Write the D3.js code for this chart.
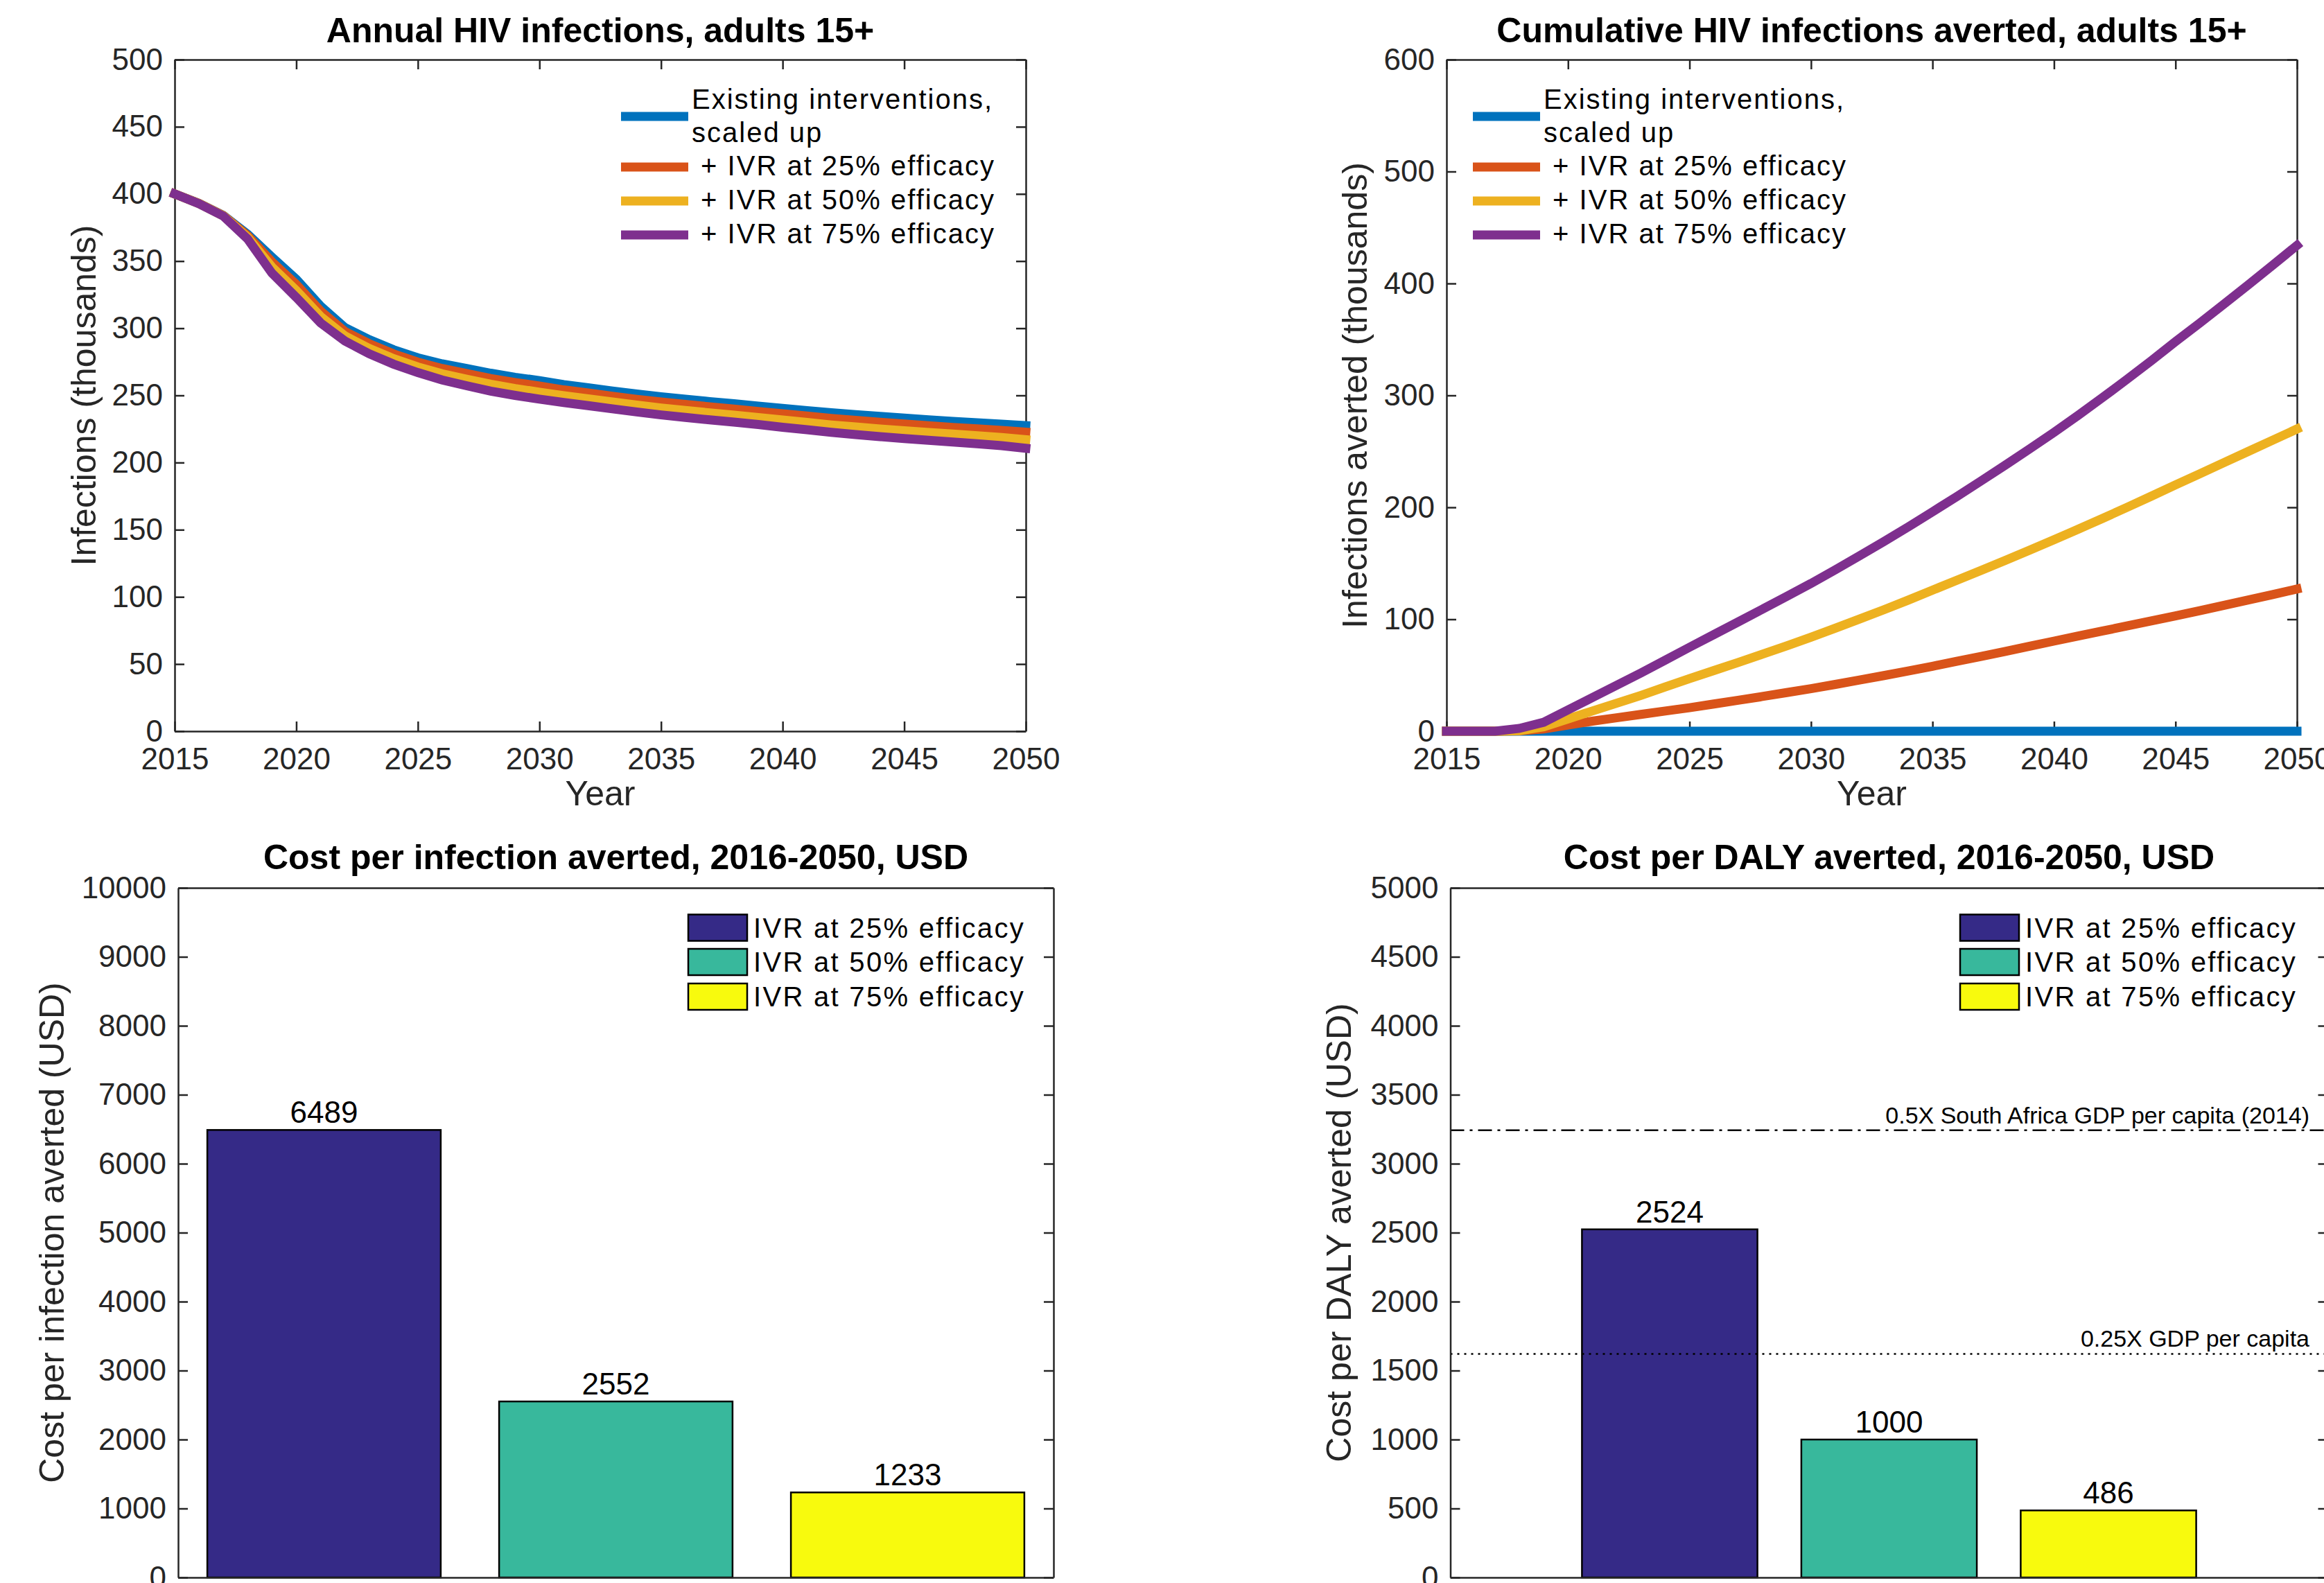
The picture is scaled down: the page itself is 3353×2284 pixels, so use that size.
<!DOCTYPE html>
<html>
<head>
<meta charset="utf-8">
<script src="https://cdn.jsdelivr.net/npm/d3@7"></script>
<style>
body { margin: 0; background: #fff; }
text { font-family: "Liberation Sans", Arial, Helvetica, sans-serif; }
</style>
</head>
<body>
<div id="chart"></div>
<script>
// values
var years = [2015, 2016, 2017, 2018, 2019, 2020, 2021, 2022, 2023, 2024, 2025, 2026, 2027, 2028, 2029, 2030, 2031, 2032,
	2033, 2034, 2035, 2036, 2037, 2038, 2039, 2040, 2041, 2042, 2043, 2044, 2045, 2046, 2047, 2048, 2049, 2050]

var seriesNames = ['Existing interventions,|scaled up', ' + IVR at 25% efficacy', ' + IVR at 50% efficacy', ' + IVR at 75% efficacy']

// annual infections, thousands
var annualExisting = [400, 393, 384, 370, 353, 336.5, 316.5, 300.5, 291.5, 284, 278, 273.5, 270, 266.5, 263.5, 261, 258, 255.7,
	253.3, 251, 249, 247.2, 245.4, 243.8, 242, 240.4, 238.7, 237.1, 235.7, 234.4, 233.1, 231.8, 230.7, 229.6, 228.6, 227.5]
var annualIVR25 = [400, 393, 383.9, 369, 349.5, 332.6, 312.9, 297.6, 288.5, 280.9, 274.8, 270, 266.3, 262.6, 259.6, 257, 254.1, 251.8,
	249.4, 247.1, 245.1, 243.3, 241.5, 239.8, 238, 236.3, 234.6, 232.9, 231.4, 230, 228.7, 227.4, 226.2, 225.1, 224, 222.6]
var annualIVR50 = [400, 392.8, 383.7, 367.8, 345.6, 328.1, 308.8, 294.3, 285, 277.4, 271.2, 266.1, 262.1, 258.3, 255.1, 252.4, 249.8, 247.5,
	245.1, 242.8, 240.6, 238.8, 237, 235.3, 233.5, 231.7, 229.9, 228, 226.5, 225, 223.7, 222.4, 221.2, 219.9, 218.7, 217]
var annualIVR75 = [400, 392.7, 383.5, 366.5, 341, 323, 304, 290.5, 281, 273.3, 267, 261.5, 257.2, 253.2, 250, 247.2, 244.7, 242.4,
	240, 237.7, 235.5, 233.6, 231.8, 230.1, 228.3, 226.3, 224.5, 222.5, 220.8, 219.3, 217.9, 216.6, 215.3, 214, 212.6, 210.6]

// cumulative infections averted, thousands
var avertedExisting = [0, 0, 0, 0, 0, 0, 0, 0, 0, 0, 0, 0, 0, 0, 0, 0, 0, 0,
	0, 0, 0, 0, 0, 0, 0, 0, 0, 0, 0, 0, 0, 0, 0, 0, 0, 0]
var avertedIVR25 = [0, 0, 0, 0.3, 2, 5.5, 9, 12, 15, 18, 21, 24.3, 27.6, 31, 34.5, 38, 41.8, 45.7,
	49.7, 53.8, 58, 62.4, 66.8, 71.3, 75.9, 80.5, 85, 89.5, 94, 98.5, 103, 107.7, 112.5, 117.2, 122.1, 127]
var avertedIVR50 = [0, 0, 0, 0.5, 4, 11, 18, 25, 32, 39.5, 47, 54.2, 61.4, 68.8, 76.3, 84, 92, 100.2,
	108.5, 117.1, 126, 134.8, 143.7, 152.7, 161.8, 171, 180.5, 190.1, 199.9, 209.9, 220, 230, 240, 250, 260, 270]
var avertedIVR75 = [0, 0, 0, 2.5, 8, 19, 30, 41, 52, 63.5, 75, 86.3, 97.6, 109, 120.5, 132, 144.2, 156.7,
	169.4, 182.5, 196, 209.6, 223.6, 237.8, 252.3, 267, 282.3, 298.1, 314.3, 330.9, 348, 364.6, 381.6, 398.8, 416.3, 434]

// cost effectiveness bars
var barNames = ['IVR at 25% efficacy', 'IVR at 50% efficacy', 'IVR at 75% efficacy']
var costPerInfection = [6489, 2552, 1233]
var costPerDaly = [2524, 1000, 486]
var thresholdValues = [3242, 1621]
var thresholdNames = ['0.5X South Africa GDP per capita (2014)', '0.25X GDP per capita']

var yearTicks = [2015, 2020, 2025, 2030, 2035, 2040, 2045, 2050]
var annualTicks = [0, 50, 100, 150, 200, 250, 300, 350, 400, 450, 500]
var avertedTicks = [0, 100, 200, 300, 400, 500, 600]
var infectionCostTicks = [0, 1000, 2000, 3000, 4000, 5000, 6000, 7000, 8000, 9000, 10000]
var dalyCostTicks = [0, 500, 1000, 1500, 2000, 2500, 3000, 3500, 4000, 4500, 5000]

var lineColors = ['#0072bd', '#d95319', '#edb120', '#7e2f8e']
var barColors = ['#352a87', '#38b89c', '#f8fa0d']
var AXIS = '#262626'

var svg = d3.select('#chart').append('svg')
	.attr('width', 3353).attr('height', 2284).style('display', 'block')
svg.append('rect').attr('width', 3353).attr('height', 2284).attr('fill', '#fff')

function styleAxis(sel) {
	sel.select('.domain').attr('stroke', AXIS).attr('stroke-width', 2.5)
	sel.selectAll('.tick line').attr('stroke', AXIS).attr('stroke-width', 2.5)
	sel.selectAll('.tick text').attr('fill', AXIS).style('font-size', '44px')
}

// box with inward ticks on all four sides, like matlab
function drawFrame(x, y, xTicks, yTicks) {
	var g = svg.append('g')
	var r = x.range(), d = y.range()
	g.append('g').attr('transform', 'translate(0,' + d[0] + ')')
		.call(d3.axisBottom(x).tickValues(xTicks).tickSizeInner(-14).tickSizeOuter(0).tickPadding(24).tickFormat(d3.format('d')))
		.call(styleAxis)
	g.append('g').attr('transform', 'translate(0,' + d[1] + ')')
		.call(d3.axisTop(x).tickValues(xTicks).tickSizeInner(-14).tickSizeOuter(0).tickFormat(''))
		.call(styleAxis)
	g.append('g').attr('transform', 'translate(' + r[0] + ',0)')
		.call(d3.axisLeft(y).tickValues(yTicks).tickSizeInner(-14).tickSizeOuter(0).tickPadding(17).tickFormat(d3.format('d')))
		.call(styleAxis)
	g.append('g').attr('transform', 'translate(' + r[1] + ',0)')
		.call(d3.axisRight(y).tickValues(yTicks).tickSizeInner(-14).tickSizeOuter(0).tickFormat(''))
		.call(styleAxis)
	return g
}

function drawTitle(x, baseline, text) {
	var r = x.range()
	svg.append('text').attr('x', (r[0] + r[1]) / 2).attr('y', baseline)
		.attr('text-anchor', 'middle').style('font-size', '50px').style('font-weight', 'bold')
		.attr('fill', '#000').text(text)
}

function drawYLabel(xPos, y, text) {
	var d = y.range(), cy = (d[0] + d[1]) / 2
	svg.append('text').attr('transform', 'translate(' + xPos + ',' + cy + ') rotate(-90)')
		.attr('text-anchor', 'middle').style('font-size', '50px').attr('fill', AXIS).text(text)
}

function drawXLabel(x, baseline, text) {
	var r = x.range()
	svg.append('text').attr('x', (r[0] + r[1]) / 2).attr('y', baseline)
		.attr('text-anchor', 'middle').style('font-size', '50px').attr('fill', AXIS).text(text)
}

function drawLines(x, y, series) {
	var line = d3.line().x(function(d, i) { return x(years[i]) }).y(function(d) { return y(d) })
	svg.append('g').selectAll('path').data(series).enter().append('path')
		.attr('d', line)
		.attr('fill', 'none')
		.attr('stroke', function(d, i) { return lineColors[i] })
		.attr('stroke-width', 13)
		.attr('stroke-linecap', 'square')
		.attr('stroke-linejoin', 'miter')
}

function drawLineLegend(lineX, rowY, textBase) {
	var g = svg.append('g')
	seriesNames.forEach(function(name, i) {
		g.append('line').attr('x1', lineX).attr('x2', lineX + 97)
			.attr('y1', rowY[i]).attr('y2', rowY[i])
			.attr('stroke', lineColors[i]).attr('stroke-width', 13)
		var parts = name.split('|')
		parts.forEach(function(p, j) {
			g.append('text').attr('x', lineX + 102).attr('y', textBase[i] + j * 47.5)
				.style('font-size', '40px').style('letter-spacing', '2px').style('white-space', 'pre')
				.attr('fill', '#000').text(p)
		})
	})
}

function drawBars(x, y, values) {
	var w = 0.8 * (x(1) - x(0))
	var g = svg.append('g')
	g.selectAll('rect').data(values).enter().append('rect')
		.attr('x', function(d, i) { return x(i + 1) - w / 2 })
		.attr('y', function(d) { return y(d) })
		.attr('width', w)
		.attr('height', function(d) { return y(0) - y(d) })
		.attr('fill', function(d, i) { return barColors[i] })
		.attr('stroke', '#000').attr('stroke-width', 2.5)
	g.selectAll('text').data(values).enter().append('text')
		.attr('x', function(d, i) { return x(i + 1) })
		.attr('y', function(d) { return y(d) - 10 })
		.attr('text-anchor', 'middle').style('font-size', '44px').attr('fill', '#000')
		.text(function(d) { return d })
}

function drawBarLegend(patchX) {
	var g = svg.append('g')
	var tops = [1319.5, 1369, 1419]
	barNames.forEach(function(name, i) {
		g.append('rect').attr('x', patchX).attr('y', tops[i]).attr('width', 85).attr('height', 38)
			.attr('fill', barColors[i]).attr('stroke', '#000').attr('stroke-width', 2.5)
		g.append('text').attr('x', patchX + 94).attr('y', tops[i] + 33)
			.style('font-size', '40px').style('letter-spacing', '2.3px').attr('fill', '#000').text(name)
	})
}

// panel 1: annual infections
var x1 = d3.scaleLinear().domain([2015, 2050]).range([252, 1480])
var y1 = d3.scaleLinear().domain([0, 500]).range([1055, 86])
drawFrame(x1, y1, yearTicks, annualTicks)
drawLines(x1, y1, [annualExisting, annualIVR25, annualIVR50, annualIVR75])
drawTitle(x1, 60.5, 'Annual HIV infections, adults 15+')
drawYLabel(138, y1, 'Infections (thousands)')
drawXLabel(x1, 1162, 'Year')
drawLineLegend(896, [168, 241, 290, 339], [157, 253, 302, 351])

// panel 2: cumulative averted
var x2 = d3.scaleLinear().domain([2015, 2050]).range([2087, 3314])
var y2 = d3.scaleLinear().domain([0, 600]).range([1055, 86])
drawFrame(x2, y2, yearTicks, avertedTicks)
drawLines(x2, y2, [avertedExisting, avertedIVR25, avertedIVR50, avertedIVR75])
drawTitle(x2, 60.5, 'Cumulative HIV infections averted, adults 15+')
drawYLabel(1972, y2, 'Infections averted (thousands)')
drawXLabel(x2, 1162, 'Year')
drawLineLegend(2125, [168, 241, 290, 339], [157, 253, 302, 351])

// panel 3: cost per infection averted
var x3 = d3.scaleLinear().domain([0.5, 3.5]).range([257, 1520])
var y3 = d3.scaleLinear().domain([0, 10000]).range([2276, 1281])
drawBars(x3, y3, costPerInfection)
drawFrame(x3, y3, [], infectionCostTicks)
drawTitle(x3, 1254, 'Cost per infection averted, 2016-2050, USD')
drawYLabel(92, y3, 'Cost per infection averted (USD)')
drawBarLegend(993)

// panel 4: cost per DALY averted
var x4 = d3.scaleLinear().domain([0, 4]).range([2092.5, 3358.5])
var y4 = d3.scaleLinear().domain([0, 5000]).range([2276, 1281])
drawBars(x4, y4, costPerDaly)
var dashes = ['20,8,4,8', '3,7']
thresholdValues.forEach(function(v, i) {
	svg.append('line').attr('x1', x4(0)).attr('x2', x4(4)).attr('y1', y4(v)).attr('y2', y4(v))
		.attr('stroke', '#000').attr('stroke-width', 2.5).attr('stroke-dasharray', dashes[i])
	svg.append('text').attr('x', 3332).attr('y', y4(v) - (i == 0 ? 10 : 10))
		.attr('text-anchor', 'end').style('font-size', '34px').attr('fill', '#000').text(thresholdNames[i])
})
drawFrame(x4, y4, [], dalyCostTicks)
drawTitle(x4, 1254, 'Cost per DALY averted, 2016-2050, USD')
drawYLabel(1949, y4, 'Cost per DALY averted (USD)')
drawBarLegend(2828)
</script>
</body>
</html>
